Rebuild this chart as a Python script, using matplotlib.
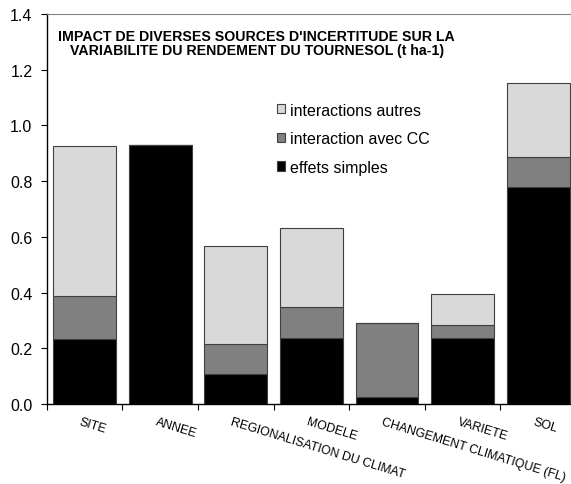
import matplotlib
matplotlib.use('Agg')
import matplotlib.pyplot as plt
import matplotlib.transforms as mtransforms
import numpy as np

plt.rcParams['font.family'] = ['Liberation Sans', 'DejaVu Sans']

categories = ['SITE', 'ANNEE', 'REGIONALISATION DU CLIMAT', 'MODELE',
              'CHANGEMENT CLIMATIQUE (FL)', 'VARIETE', 'SOL']
effets_simples = [0.235, 0.930, 0.108, 0.236, 0.024, 0.236, 0.778]
interaction_cc = [0.152, 0.000, 0.107, 0.111, 0.268, 0.046, 0.108]
interactions_autres = [0.538, 0.000, 0.352, 0.285, 0.000, 0.113, 0.266]

fig = plt.figure(figsize=(5.71, 4.85), dpi=100)
ax = fig.add_axes([0.0818, 0.165, 0.927, 0.804])

x = np.arange(len(categories))
w = 0.83
edge = '#404040'
b1 = ax.bar(x, effets_simples, w, color='black', edgecolor=edge, linewidth=0.8,
            label='effets simples')
b2 = ax.bar(x, interaction_cc, w, bottom=effets_simples, color='#808080',
            edgecolor=edge, linewidth=0.8, label='interaction avec CC')
bottom2 = np.array(effets_simples) + np.array(interaction_cc)
b3 = ax.bar(x, interactions_autres, w, bottom=bottom2, color='#d9d9d9',
            edgecolor=edge, linewidth=0.8, label='interactions autres')

ax.set_xlim(-0.5, 6.5)
ax.set_ylim(0, 1.4)
yt = np.arange(0, 1.41, 0.2)
ax.set_yticks(yt)
ax.set_yticklabels([f'{v:.1f}' for v in yt], fontsize=11.5)
ax.tick_params(axis='y', direction='out', length=4.3, width=0.8, pad=6)

ax.set_xticks(x)
ax.set_xticklabels(categories, rotation=-17, ha='left', va='top',
                   rotation_mode='anchor', fontsize=8.9)
ax.tick_params(axis='x', which='major', length=0, pad=8.5)
shift = mtransforms.ScaledTranslation(-3 / 100, 0, fig.dpi_scale_trans)
for lab in ax.get_xticklabels():
    lab.set_transform(lab.get_transform() + shift)
ax.set_xticks(np.arange(-0.5, 6.6, 1), minor=True)
ax.tick_params(axis='x', which='minor', direction='out', length=4.3, width=0.8)

ax.spines['right'].set_visible(False)
ax.spines['top'].set_color('#808080')
ax.spines['left'].set_linewidth(1.0)
ax.spines['bottom'].set_linewidth(1.0)

ax.text(0.397, 0.962, "IMPACT DE DIVERSES SOURCES D'INCERTITUDE SUR LA\n"
        "VARIABILITE DU RENDEMENT DU TOURNESOL (t ha-1)",
        transform=ax.transAxes, ha='center', va='top', fontsize=10.2,
        fontweight='bold', linespacing=1.0)

ax.legend(handles=[b3, b2, b1], loc='upper left', bbox_to_anchor=(0.435, 0.773),
          frameon=False, fontsize=11.5, handlelength=0.5, handleheight=0.5,
          handletextpad=0.3, labelspacing=0.85, borderpad=0, borderaxespad=0)

fig.savefig('out.png', dpi=100)
